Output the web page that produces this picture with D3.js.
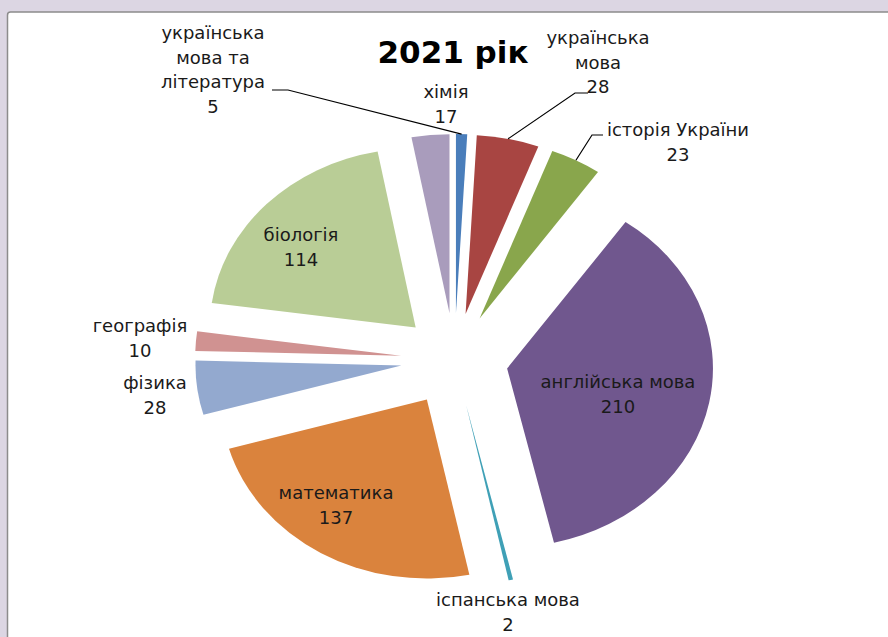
<!DOCTYPE html>
<html>
<head>
<meta charset="utf-8">
<script src="https://cdn.jsdelivr.net/npm/d3@7"></script>
<style>
  html, body { margin: 0; padding: 0; background: #dcd6e3; }
  svg { display: block; }
</style>
</head>
<body>
<svg id="drawing_region"></svg>
<script>
// data (slices clockwise from 12 o'clock)
const subjects = ["українська мова та література", "українська мова", "історія України",
  "англійська мова", "іспанська мова", "математика", "фізика", "географія", "біологія", "хімія"];
const values = [5, 28, 23, 210, 2, 137, 28, 10, 114, 17];
const labelLines = [
  ["українська", "мова та", "література", "5"],
  ["українська", "мова", "28"],
  ["історія України", "23"],
  ["англійська мова", "210"],
  ["іспанська мова", "2"],
  ["математика", "137"],
  ["фізика", "28"],
  ["географія", "10"],
  ["біологія", "114"],
  ["хімія", "17"]
];
const colors = ["#4a7ebb", "#a84542", "#89a64c", "#70578e", "#3fa0b6",
  "#da833d", "#93a9cf", "#d09291", "#b9cd96", "#a99cbc"];

// label anchors (centre of the first text line) and leader start points
const labelPos = [
  {x: 213, y: 33, leader: [[272, 90], [288, 90]]},
  {x: 598, y: 38, leader: [[588, 93], [575, 93]]},
  {x: 678, y: 130, leader: [[603, 135], [592, 135]]},
  {x: 618, y: 382},
  {x: 508, y: 600},
  {x: 336, y: 493},
  {x: 155, y: 383},
  {x: 140, y: 326},
  {x: 301, y: 235},
  {x: 446, y: 92}
];

const config = {
  width: 888, height: 637,
  cx: 454.5, cy: 359.6,
  radius: 179, stretch: 1.15, explode: 46.6,
  lineStep: 24.5
};

const svg = d3.select('#drawing_region')
  .attr('width', config.width)
  .attr('height', config.height);

// chart area frame
svg.append('rect')
  .attr('x', 7.5).attr('y', 12)
  .attr('width', 900).attr('height', 700)
  .attr('rx', 3)
  .attr('fill', '#ffffff')
  .attr('stroke', '#8c8c8c')
  .attr('stroke-width', 1.5);

const data = subjects.map((s, i) => ({subject: s, value: values[i], i: i}));

const pie = d3.pie()
  .sort(null)
  .value(d => d.value);

const arcs = pie(data);

const arc = d3.arc()
  .innerRadius(0)
  .outerRadius(config.radius);

const plot = svg.append('g')
  .attr('transform', `translate(${config.cx}, ${config.cy}) scale(${config.stretch}, 1)`);

const mid = d => (d.startAngle + d.endAngle) / 2;

plot.selectAll('path')
  .data(arcs)
  .join('path')
  .attr('transform', d => `translate(${config.explode * Math.sin(mid(d))}, ${-config.explode * Math.cos(mid(d))})`)
  .attr('d', arc)
  .attr('fill', d => colors[d.data.i]);

// screen point on the outer edge of an exploded slice at its middle angle
const outerMid = d => {
  const r = config.radius + config.explode;
  return [config.cx + config.stretch * r * Math.sin(mid(d)), config.cy - r * Math.cos(mid(d))];
};

// leader lines
arcs.forEach(d => {
  const p = labelPos[d.data.i];
  if (!p.leader) return;
  const pts = p.leader.concat([outerMid(d)]);
  svg.append('path')
    .attr('d', d3.line()(pts))
    .attr('fill', 'none')
    .attr('stroke', '#000')
    .attr('stroke-width', 1.2);
});

// data labels
const labels = svg.selectAll('text.label')
  .data(arcs)
  .join('text')
  .attr('class', 'label')
  .attr('font-family', 'DejaVu Sans, sans-serif')
  .attr('font-size', 18)
  .attr('fill', '#1a1a1a')
  .attr('text-anchor', 'middle');

labels.each(function(d) {
  const p = labelPos[d.data.i];
  const t = d3.select(this);
  labelLines[d.data.i].forEach((line, k) => {
    t.append('tspan')
      .attr('x', p.x)
      .attr('y', p.y + k * config.lineStep)
      .attr('dy', '0.35em')
      .text(line);
  });
});

// title
svg.append('text')
  .attr('x', 453)
  .attr('y', 63)
  .attr('text-anchor', 'middle')
  .attr('font-family', 'DejaVu Sans, sans-serif')
  .attr('font-weight', 'bold')
  .attr('font-size', 31)
  .attr('fill', '#000')
  .text('2021 рік');
</script>
</body>
</html>
